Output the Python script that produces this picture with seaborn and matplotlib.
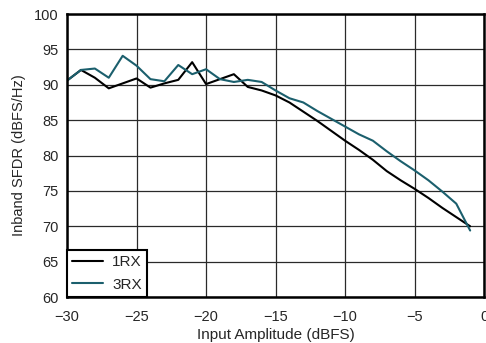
import numpy as np
import pandas as pd
import matplotlib
matplotlib.use("Agg")
import matplotlib.pyplot as plt
import seaborn as sns

# input amplitude in dBFS, 1 dB steps
amplitude = list(range(-30, 0))

sfdr_1rx = [90.6, 92.1, 91.0, 89.5, 90.2, 90.9, 89.6, 90.2, 90.7, 93.2,
            90.1, 90.8, 91.5, 89.7, 89.2, 88.5, 87.5, 86.2, 84.9, 83.5,
            82.1, 80.8, 79.4, 77.8, 76.5, 75.3, 74.0, 72.6, 71.3, 70.0]
sfdr_3rx = [90.6, 92.1, 92.3, 91.0, 94.1, 92.7, 90.8, 90.5, 92.8, 91.5,
            92.2, 90.8, 90.4, 90.7, 90.4, 89.2, 88.1, 87.5, 86.3, 85.2,
            84.1, 83.0, 82.1, 80.6, 79.2, 77.9, 76.5, 74.9, 73.2, 69.4]

df = pd.DataFrame({
    "amp": amplitude * 2,
    "sfdr": sfdr_1rx + sfdr_3rx,
    "mode": ["1RX"] * len(amplitude) + ["3RX"] * len(amplitude),
})

sns.set_style("white")
plt.rcParams["font.family"] = ["Liberation Sans", "DejaVu Sans"]

fig = plt.figure(figsize=(4.86, 3.43), dpi=100)
ax = fig.add_axes([0.138, 0.134, 0.858, 0.825])

sns.lineplot(data=df, x="amp", y="sfdr", hue="mode",
             palette={"1RX": "black", "3RX": "#1b5f6d"},
             linewidth=1.5, ax=ax)

ax.set_xlim(-30, 0)
ax.set_ylim(60, 100)
ax.set_xticks(range(-30, 1, 5))
ax.set_yticks(range(60, 101, 5))
ax.grid(True, color="#2a2a2a", linewidth=0.9)
ax.tick_params(axis="x", length=0, labelsize=10.5, pad=9)
ax.tick_params(axis="y", length=0, labelsize=10.5, pad=6)
for s in ax.spines.values():
    s.set_color("black")
    s.set_linewidth(1.8)
ax.set_xlabel("Input Amplitude (dBFS)", fontsize=11, labelpad=3)
ax.set_ylabel("Inband SFDR (dBFS/Hz)", fontsize=10.5, labelpad=6)

leg = ax.legend(loc="lower left", title=None, fontsize=11, fancybox=False,
                framealpha=1, borderaxespad=0, handlelength=2.0,
                handletextpad=0.6, borderpad=0.35, labelspacing=0.55)
leg.get_frame().set_edgecolor("black")
leg.get_frame().set_linewidth(1.5)

fig.savefig("out.png", dpi=100)
